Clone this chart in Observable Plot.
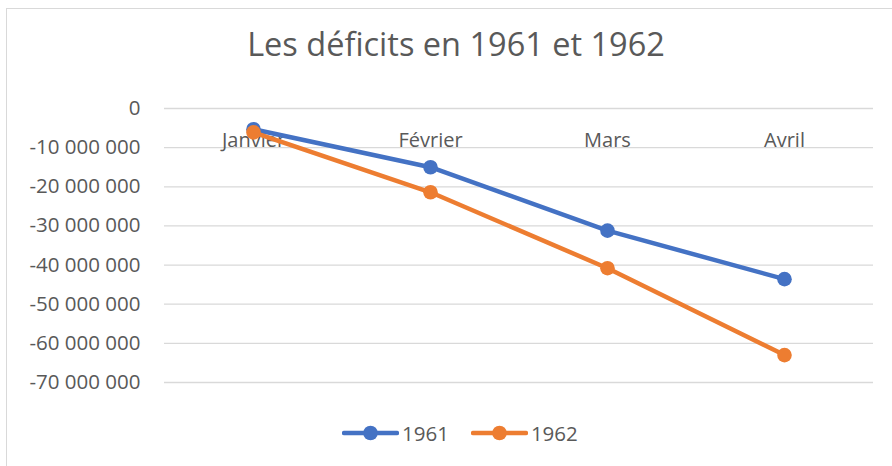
<!DOCTYPE html>
<html>
<head>
<meta charset="utf-8">
<script src="https://cdn.jsdelivr.net/npm/d3@7"></script>
<script src="https://cdn.jsdelivr.net/npm/@observablehq/plot@0.6"></script>
<style>
  html, body { margin: 0; padding: 0; background: #fff; }
  #wrap { position: relative; width: 892px; height: 466px; overflow: hidden; background: #fff; font-family: "Open Sans", sans-serif; color: #595959; }
  #frame { position: absolute; left: 6px; top: 8px; width: 920px; height: 500px; border: 1.5px solid #d9d9d9; box-sizing: border-box; }
  #title { position: absolute; left: 0; top: 28px; width: 912px; text-align: center; font-size: 32.5px; line-height: 32.5px; color: #595959; }
  #chart { position: absolute; left: 0; top: 88px; }
  #legend { position: absolute; left: 342px; top: 421px; height: 24px; display: flex; align-items: center; font-size: 20.5px; color: #595959; }
  #legend .item { display: flex; align-items: center; }
  #legend .item + .item { margin-left: 22px; }
  #legend svg { display: block; margin-right: 3px; }
</style>
</head>
<body>
<div id="wrap">
  <div id="frame"></div>
  <div id="title">Les déficits en 1961 et 1962</div>
  <div id="chart"></div>
  <div id="legend"></div>
</div>
<script>
const months = ["Janvier", "Février", "Mars", "Avril"];
const years = ["1961", "1962"];
const values1961 = [-5300000, -15000000, -31200000, -43600000];
const values1962 = [-6100000, -21400000, -40800000, -63000000];
const yTicks = [0, -10000000, -20000000, -30000000, -40000000, -50000000, -60000000, -70000000];
const colors = ["#4472C4", "#ED7D31"];

const data = [];
months.forEach((m, i) => data.push({month: m, year: "1961", value: values1961[i]}));
months.forEach((m, i) => data.push({month: m, year: "1962", value: values1962[i]}));

const fmt = d3.formatLocale({decimal: ",", thousands: " ", grouping: [3], currency: ["", ""], minus: "-"}).format(",");

const plot = Plot.plot({
  width: 892,
  height: 310,
  marginLeft: 164,
  marginRight: 19,
  marginTop: 20,
  marginBottom: 16,
  style: {fontFamily: "'Open Sans', sans-serif", fontSize: "20px", color: "#595959", background: "transparent", overflow: "visible"},
  x: {type: "point", domain: months, padding: 0.5, axis: null},
  y: {domain: [-70000000, 0], axis: null, label: null},
  color: {domain: years, range: colors},
  marks: [
    Plot.gridY(yTicks, {stroke: "#d9d9d9", strokeOpacity: 1, strokeWidth: 1.3}),
    Plot.axisY(yTicks, {tickSize: 0, tickPadding: 24, tickFormat: fmt, fill: "#595959", fontSize: 20.5, label: null}),
    Plot.text(months, {x: d => d, y: () => 0, dy: 32, text: d => d, fill: "#595959", fontSize: 20, textAnchor: "middle", lineAnchor: "middle"}),
    ...years.map(yr => [
      Plot.line(data.filter(d => d.year === yr), {x: "month", y: "value", stroke: "year", strokeWidth: 4.5, strokeLinejoin: "round", strokeLinecap: "round"}),
      Plot.dot(data.filter(d => d.year === yr), {x: "month", y: "value", fill: "year", r: 7.3, stroke: "none"})
    ]).flat()
  ]
});
document.getElementById("chart").appendChild(plot);

const legend = document.getElementById("legend");
years.forEach((yr, i) => {
  const item = document.createElement("div");
  item.className = "item";
  item.innerHTML = `<svg width="57" height="24"><line x1="2" y1="12" x2="55" y2="12" stroke="${colors[i]}" stroke-width="4.5" stroke-linecap="round"/><circle cx="28.5" cy="12" r="7.3" fill="${colors[i]}"/></svg><span>${yr}</span>`;
  legend.appendChild(item);
});
</script>
</body>
</html>
